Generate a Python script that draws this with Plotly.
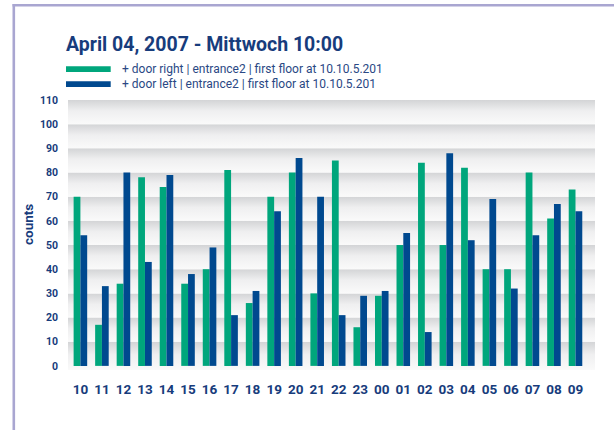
import plotly.graph_objects as go

# ---------------- data ----------------
hours = ["10", "11", "12", "13", "14", "15", "16", "17", "18", "19", "20", "21",
         "22", "23", "00", "01", "02", "03", "04", "05", "06", "07", "08", "09"]
door_right = [70, 17, 34, 78, 74, 34, 40, 81, 26, 70, 80, 30,
              85, 16, 29, 50, 84, 50, 82, 40, 40, 80, 61, 73]
door_left = [54, 33, 80, 43, 79, 38, 49, 21, 31, 64, 86, 70,
             21, 29, 31, 55, 14, 88, 52, 69, 32, 54, 67, 64]
y_ticks = [0, 10, 20, 30, 40, 50, 60, 70, 80, 90, 100, 110]
series_names = ["+ door right | entrance2 | first floor at 10.10.5.201",
                "+ door left | entrance2 | first floor at 10.10.5.201"]
title_text = "April 04, 2007 - Mittwoch 10:00"
y_title = "counts"

# ---------------- style ----------------
W, H = 614, 430
L, R, T, B = 68, 595, 100, 370
GREEN = "#00A67C"
BLUE = "#00498F"
NAVY = "#173C7C"
TEXT = "#2A4884"
FRAME = "#A9A6D1"
FONT = "Roboto, 'Open Sans', sans-serif"
Y_MIN, Y_MAX = -1.7, 110


def px_x(px):
    return (px - L) / (R - L)


def px_y(py):
    return (B - py) / (B - T)


fig = go.Figure()

# gradient background bands (one per tick interval)
for i in range(len(y_ticks) - 1):
    lo = y_ticks[i] if i > 0 else Y_MIN
    hi = y_ticks[i + 1]
    fig.add_trace(go.Scatter(
        x=[0, 1, 1, 0, 0], y=[lo, lo, hi, hi, lo],
        mode="lines", line=dict(width=0), fill="toself",
        fillgradient=dict(type="vertical",
                          colorscale=[[0, "#FAFAFA"], [0.55, "#EFEFF0"], [1, "#D3D4D6"]]),
        xaxis="x", yaxis="y", hoverinfo="skip", showlegend=False))

fig.add_trace(go.Bar(x=hours, y=door_right, name=series_names[0],
                     marker=dict(color=GREEN, line=dict(width=0)),
                     xaxis="x2", yaxis="y", showlegend=False))
fig.add_trace(go.Bar(x=hours, y=door_left, name=series_names[1],
                     marker=dict(color=BLUE, line=dict(width=0)),
                     xaxis="x2", yaxis="y", showlegend=False))

fig.update_layout(
    width=W, height=H,
    margin=dict(l=L, r=W - R, t=T, b=H - B, pad=0),
    paper_bgcolor="white", plot_bgcolor="white",
    barmode="group", bargap=0.37, bargroupgap=0,
    font=dict(family=FONT, color=NAVY),
    title=dict(text=title_text, xref="container", yref="container",
               x=66 / W, xanchor="left", y=1 - 44.5 / H, yanchor="middle",
               font=dict(family=FONT, size=19.5, color=NAVY, weight="bold")),
    xaxis=dict(range=[0, 1], visible=False, fixedrange=True),
    xaxis2=dict(overlaying="x", type="category", range=[-0.576, 23.906],
                showgrid=False, zeroline=False, showline=False, ticks="",
                ticklabelstandoff=9,
                tickfont=dict(family=FONT, size=13.5, color=NAVY, weight="bold")),
    yaxis=dict(range=[Y_MIN, Y_MAX], tickvals=y_ticks, showgrid=False,
               zeroline=False, showline=False, ticks="", ticklabelstandoff=9,
               tickfont=dict(family=FONT, size=10.5, color=NAVY, weight="bold")),
)

shapes = []
# frame lines
shapes.append(dict(type="line", xref="paper", yref="paper",
                   x0=px_x(13.8), x1=px_x(13.8), y0=px_y(4), y1=px_y(H + 2),
                   line=dict(color=FRAME, width=2.6)))
shapes.append(dict(type="line", xref="paper", yref="paper",
                   x0=px_x(12.5), x1=px_x(W + 2), y0=px_y(5.3), y1=px_y(5.3),
                   line=dict(color=FRAME, width=2.6)))
# legend swatches
for cy, col in [(69.2, GREEN), (84.2, BLUE)]:
    shapes.append(dict(type="rect", xref="paper", yref="paper",
                       x0=px_x(66), x1=px_x(110.7), y0=px_y(cy - 2.9), y1=px_y(cy + 2.9),
                       fillcolor=col, line=dict(width=0)))
fig.update_layout(shapes=shapes)

annotations = []
for cy, name in [(69.2, series_names[0]), (84.2, series_names[1])]:
    annotations.append(dict(text=name, xref="paper", yref="paper",
                            x=px_x(120), y=px_y(cy), xanchor="left", yanchor="middle",
                            showarrow=False, font=dict(family=FONT, size=12, color=TEXT)))
annotations.append(dict(text=y_title, xref="paper", yref="paper",
                        x=px_x(28.7), y=px_y(224.3), xanchor="center", yanchor="middle",
                        textangle=-90, showarrow=False,
                        font=dict(family=FONT, size=13.5, color=NAVY, weight="bold")))
fig.update_layout(annotations=annotations)

fig.write_html("out.html", config={"displayModeBar": False},
               post_script="document.body.style.margin='0';document.body.style.overflow='hidden';")
